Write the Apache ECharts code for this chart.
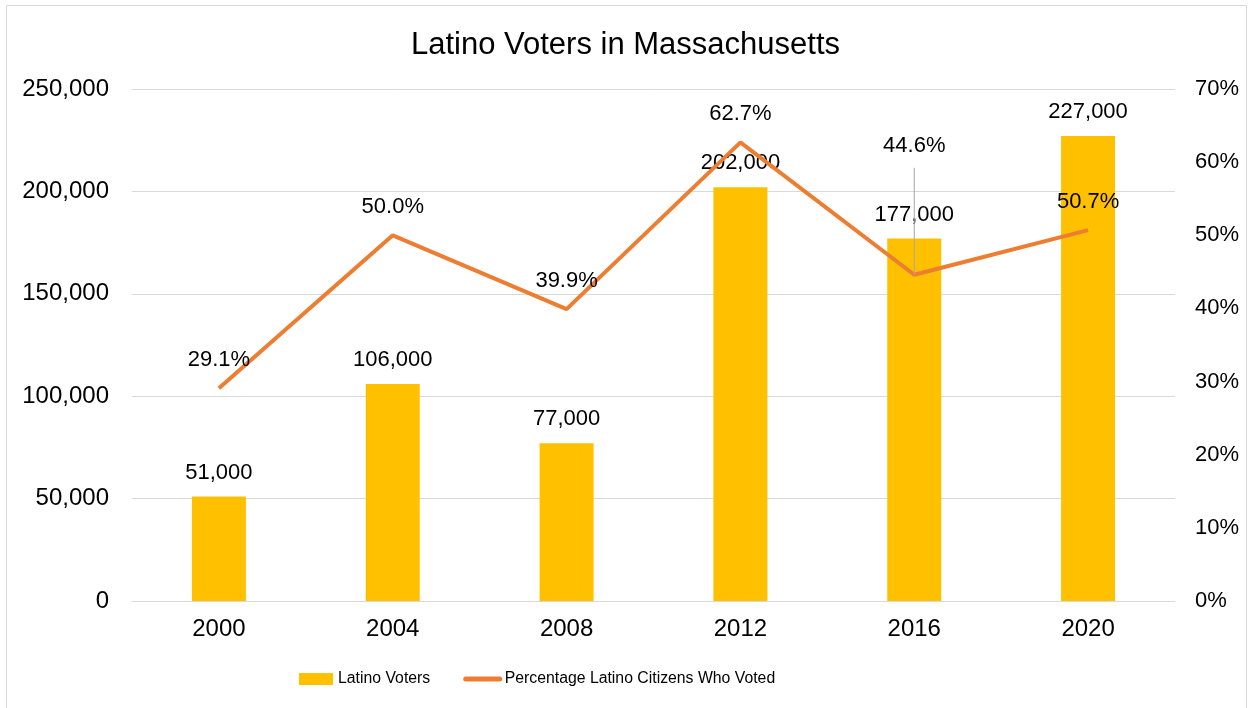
<!DOCTYPE html>
<html>
<head>
<meta charset="utf-8">
<script src="https://cdn.jsdelivr.net/npm/echarts@6/dist/echarts.min.js"></script>
<style>
html,body{margin:0;padding:0;background:#fff;}
#chart{width:1251px;height:708px;}
</style>
</head>
<body>
<div id="chart"></div>
<script>
const categories = ['2000', '2004', '2008', '2012', '2016', '2020'];
const latinoVoters = [51000, 106000, 77000, 202000, 177000, 227000];
const pctVoted = [29.1, 50.0, 39.9, 62.7, 44.6, 50.7];
const leftTicks = [0, 50000, 100000, 150000, 200000, 250000];
const rightTicks = [0, 10, 20, 30, 40, 50, 60, 70];

const font = '"Liberation Sans", Arial, sans-serif';
const chart = echarts.init(document.getElementById('chart'));

const lineData = pctVoted.map((v, i) => {
  const d = { value: v };
  if (i === 4) {
    d.label = { offset: [0, -101] };
    d.labelLine = { show: true };
  }
  return d;
});

chart.setOption({
  animation: false,
  textStyle: { fontFamily: font },
  graphic: [{
    type: 'rect',
    shape: { x: 6.5, y: 5.5, width: 1240, height: 710 },
    style: { fill: 'none', stroke: '#D9D9D9', lineWidth: 1 },
    silent: true
  }],
  title: {
    text: 'Latino Voters in Massachusetts',
    left: 'center',
    top: 25,
    textStyle: { fontFamily: font, fontSize: 31, fontWeight: 'normal', color: '#000' }
  },
  legend: {
    top: 671,
    left: 299,
    padding: 0,
    itemGap: 33,
    itemWidth: 34,
    itemHeight: 12,
    textStyle: { fontFamily: font, fontSize: 15.8, color: '#000' },
    data: [
      { name: 'Latino Voters', icon: 'rect' },
      { name: 'Percentage Latino Citizens Who Voted', itemStyle: { opacity: 0 },
        lineStyle: { width: 5, cap: 'round', color: '#ED7D31' } }
    ]
  },
  grid: { left: 132, right: 76, top: 89, bottom: 107 },
  xAxis: {
    type: 'category',
    data: categories,
    axisLine: { show: true, lineStyle: { color: '#D9D9D9', width: 1 } },
    axisTick: { show: false },
    axisLabel: { fontSize: 24, color: '#000', margin: 16, fontFamily: font }
  },
  yAxis: [{
    type: 'value',
    min: leftTicks[0],
    max: leftTicks[leftTicks.length - 1],
    interval: leftTicks[1] - leftTicks[0],
    axisLine: { show: false },
    axisTick: { show: false },
    splitLine: { lineStyle: { color: '#D9D9D9', width: 1 } },
    axisLabel: {
      fontSize: 24, color: '#000', margin: 23, fontFamily: font,
      formatter: v => v.toLocaleString('en-US')
    }
  }, {
    type: 'value',
    min: rightTicks[0],
    max: rightTicks[rightTicks.length - 1],
    interval: rightTicks[1] - rightTicks[0],
    axisLine: { show: false },
    axisTick: { show: false },
    splitLine: { show: false },
    axisLabel: {
      fontSize: 22, color: '#000', margin: 20, fontFamily: font,
      formatter: v => v + '%'
    }
  }],
  series: [{
    name: 'Latino Voters',
    type: 'bar',
    data: latinoVoters,
    barWidth: 54,
    itemStyle: { color: '#FFC000' },
    label: {
      show: true, position: 'top', distance: 13,
      fontSize: 22, color: '#000', fontFamily: font,
      formatter: p => p.value.toLocaleString('en-US')
    },
    z: 2
  }, {
    name: 'Percentage Latino Citizens Who Voted',
    type: 'line',
    yAxisIndex: 1,
    data: lineData,
    symbol: 'circle',
    symbolSize: 0,
    lineStyle: { color: '#ED7D31', width: 4 },
    itemStyle: { color: '#ED7D31' },
    label: {
      show: true, position: 'top', distance: 17,
      fontSize: 22, color: '#000', fontFamily: font,
      formatter: p => p.value.toFixed(1) + '%'
    },
    labelLine: { show: false, lineStyle: { color: '#A6A6A6', width: 1 } },
    z: 3
  }]
});
</script>
</body>
</html>
